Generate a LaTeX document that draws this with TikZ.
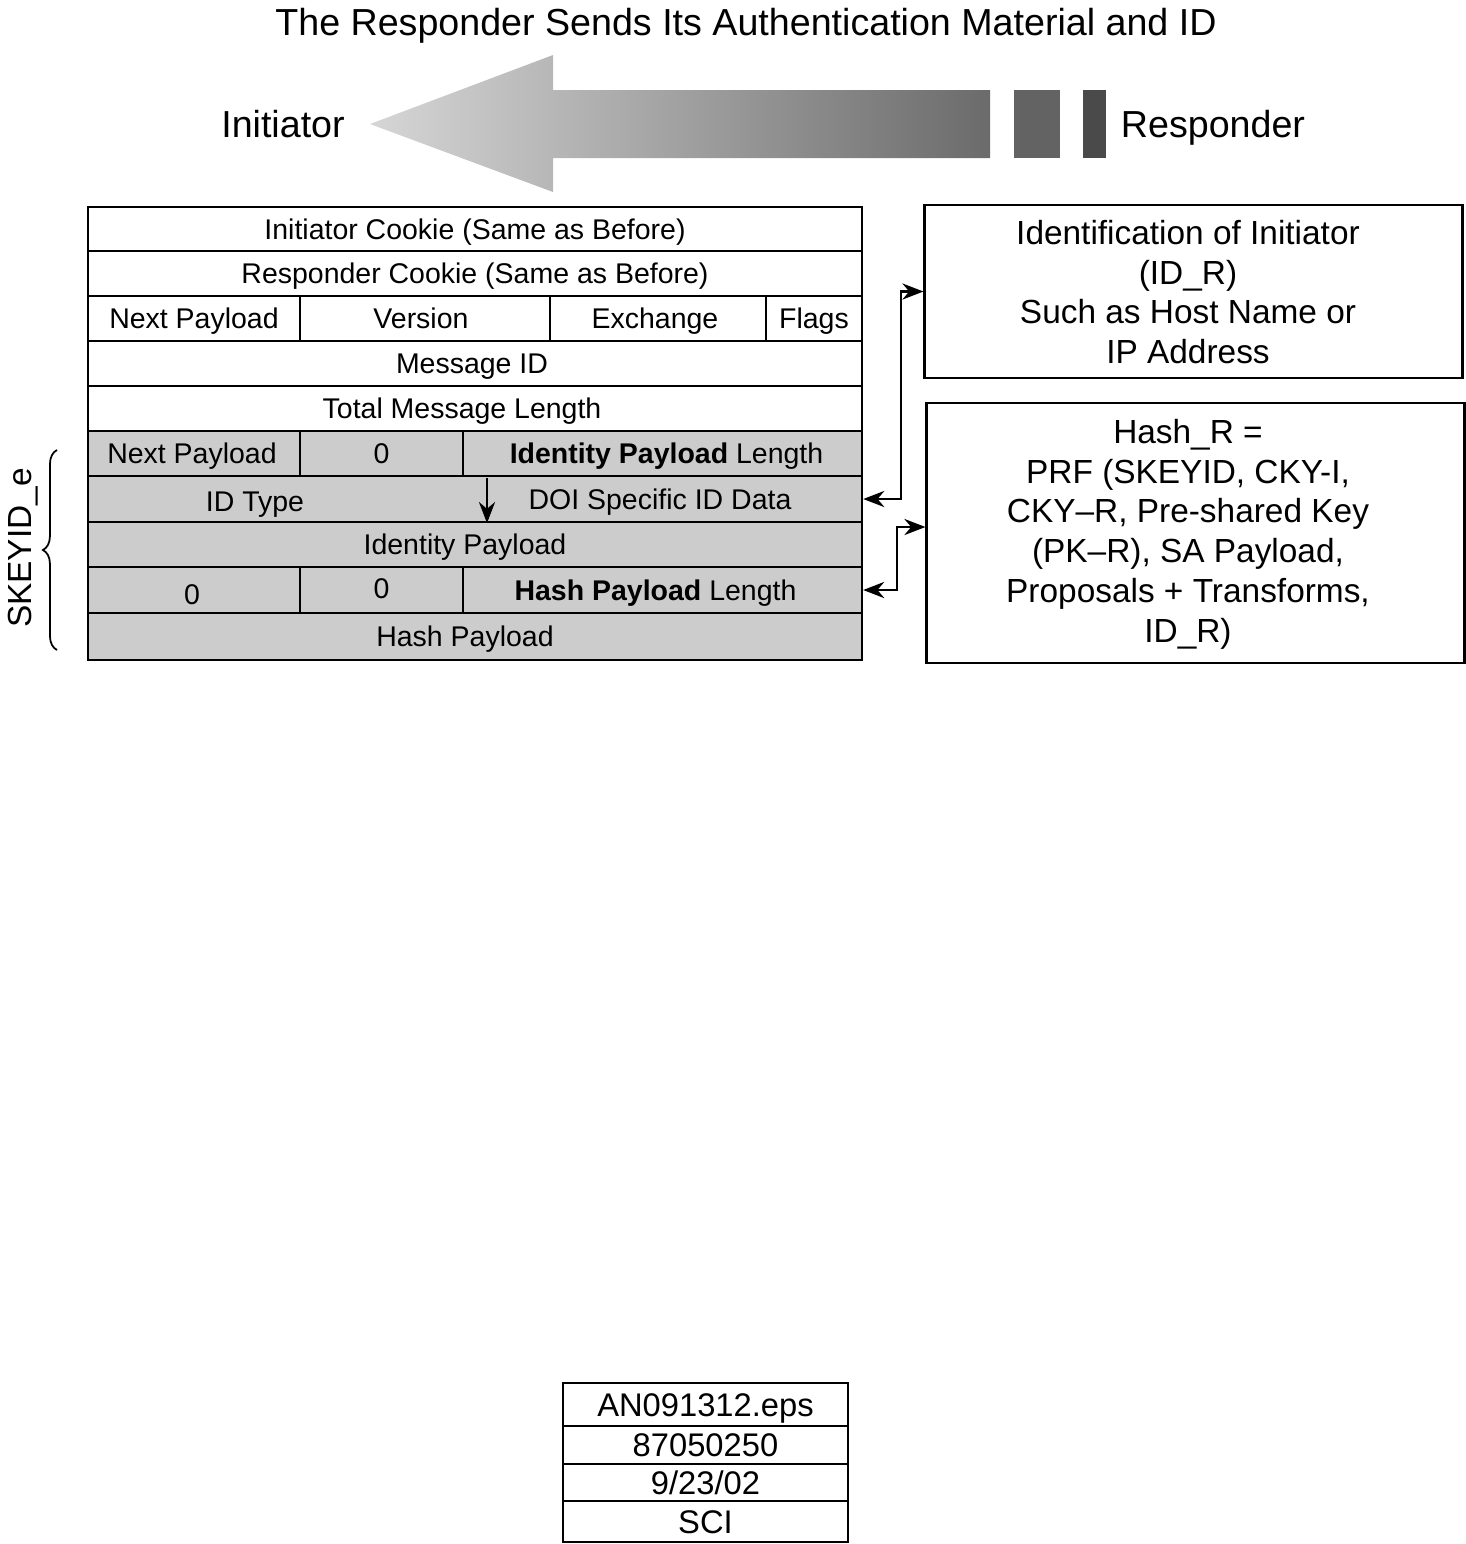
\documentclass[tikz,border=0pt]{standalone}
\usepackage{fontspec}
\setmainfont{Liberation Sans}
\usetikzlibrary{arrows.meta, positioning, decorations.pathreplacing}

\begin{document}
\begin{tikzpicture}[
    x=0.01cm, y=-0.01cm,
    cell/.style={draw, line width=0.6pt, inner sep=0pt, minimum height=0.45cm, text height=7.5pt, text depth=1.7pt, font=\fontsize{8.1}{9.7}\selectfont},
    grey/.style={cell, fill=black!20},
    txt/.style={inner sep=0pt, text height=7.5pt, text depth=1.7pt, font=\fontsize{8.1}{9.7}\selectfont},
    note/.style={draw, line width=0.8pt, inner sep=0pt, minimum width=5.37cm},
    notetext/.style={align=center, inner sep=0pt, font=\fontsize{9.5}{11.3}\selectfont},
    side/.style={inner sep=0pt, text height=9.5pt, text depth=1.84pt, font=\fontsize{10.7}{12.8}\selectfont},
    stamp/.style={draw, line width=0.6pt, inner sep=0pt, minimum width=2.85cm, text height=8.5pt, text depth=1.84pt, font=\fontsize{9.3}{11}\selectfont},
    arrow/.style={-{Stealth[length=6pt, width=4.6pt]}, line width=0.6pt},
    dblarrow/.style={{Stealth[length=6pt, width=4.6pt]}-{Stealth[length=6pt, width=4.6pt]}, line width=0.6pt}
]
\useasboundingbox (0,0) rectangle (1465,1544);

% heading and direction of the exchange
\node[side] (title) at (746,22) {The Responder Sends Its Authentication Material and ID};
\shade[left color=black!16, right color=black!58]
    (370,124) -- (553,55) -- (553,90) -- (990,90) -- (990,158) -- (553,158) -- (553,192) -- cycle;
\fill[black!61] (1014,90) rectangle (1060,158);
\fill[black!71] (1083,90) rectangle (1106,158);
\node[side] (init) at (283,124) {Initiator};
\node[side] (resp) at (1213,124) {Responder};

% ISAKMP header
\node[cell, minimum width=7.74cm, minimum height=0.44cm] (icookie) at (475,229) {Initiator Cookie (Same as Before)};
\node[cell, minimum width=7.74cm] (rcookie) at (475,273.5) {Responder Cookie (Same as Before)};
\node[cell, minimum width=2.12cm] (nextpl) at (194,318.5) {Next Payload};
\node[cell, minimum width=2.5cm] (version) at (425,318.5) {\hspace*{-0.08cm}Version};
\node[cell, minimum width=2.16cm] (exchange) at (658,318.5) {\hspace*{-0.06cm}Exchange};
\node[cell, minimum width=0.96cm] (flags) at (814,318.5) {Flags};
\node[cell, minimum width=7.74cm] (msgid) at (475,363.5) {\hspace*{-0.06cm}Message ID};
\node[cell, minimum width=7.74cm] (msglen) at (475,408.5) {\hspace*{-0.26cm}Total Message Length};

% encrypted part
\node[grey, minimum width=2.12cm] (idnext) at (194,453.5) {\hspace*{-0.04cm}Next Payload};
\node[grey, minimum width=1.63cm] (idzero) at (381.5,453.5) {0};
\node[grey, minimum width=3.99cm] (idlen) at (662.5,453.5) {\hspace*{0.08cm}\textbf{Identity Payload} Length};
\node[grey, minimum width=7.74cm, minimum height=0.46cm] (idrow) at (475,499) {};
\node[txt] (idtype) at (255,501) {ID Type};
\node[txt] (doi) at (660,499) {DOI Specific ID Data};
\coordinate (split) at (487,478);
\draw[arrow] (split) -- (split |- idrow.south);
\node[grey, minimum width=7.74cm] (idpay) at (475,544.5) {\hspace*{-0.2cm}Identity Payload};
\node[grey, minimum width=2.12cm, minimum height=0.46cm] (hzeroa) at (194,590) {\hspace*{-0.04cm}\raisebox{-0.04cm}{0}};
\node[grey, minimum width=1.63cm, minimum height=0.46cm] (hzerob) at (381.5,590) {\raisebox{0.02cm}{0}};
\node[grey, minimum width=3.99cm, minimum height=0.46cm] (hashlen) at (662.5,590) {\hspace*{-0.14cm}\textbf{Hash Payload} Length};
\node[grey, minimum width=7.74cm, minimum height=0.47cm] (hashpay) at (475,636.5) {\hspace*{-0.2cm}Hash Payload};

\coordinate (bracetop) at (57,450);
\coordinate (bracebot) at (57,650);
\draw[decorate, decoration={brace, amplitude=4pt}, line width=0.5pt] (bracebot) -- (bracetop);
\node[side, font=\fontsize{9.5}{11}\selectfont, text height=6.8pt, text depth=0pt, rotate=90] (skeyid) at (20,548) {SKEYID\_e};

% explanations
\node[note, minimum height=1.73cm] (idbox) at (1193.5,291.5) {};
\node[notetext] (idtext) at (1188,292) {Identification of Initiator\\(ID\_R)\\Such as Host Name or\\IP Address};
\node[note, minimum height=2.6cm] (hashbox) at (1195.5,533) {};
\node[notetext] (hashtext) at (1188,534) {Hash\_R =\\PRF (SKEYID, CKY-I,\\CKY--R, Pre-shared Key\\(PK--R), SA Payload,\\Proposals + Transforms,\\ID\_R)};
\draw[dblarrow] (idrow.east) -- ++(38,0) |- (idbox.west);
\draw[dblarrow] (hashlen.east) -- ++(34,0) |- ([yshift=0.06cm]hashbox.west);

% file stamp
\node[stamp, minimum height=0.43cm] (file) at (705.5,1404.5) {AN091312.eps};
\node[stamp, minimum height=0.38cm] (job) at (705.5,1445) {87050250};
\node[stamp, minimum height=0.37cm] (date) at (705.5,1482.5) {9/23/02};
\node[stamp, minimum height=0.41cm] (vendor) at (705.5,1521.5) {SCI};
\end{tikzpicture}
\end{document}
